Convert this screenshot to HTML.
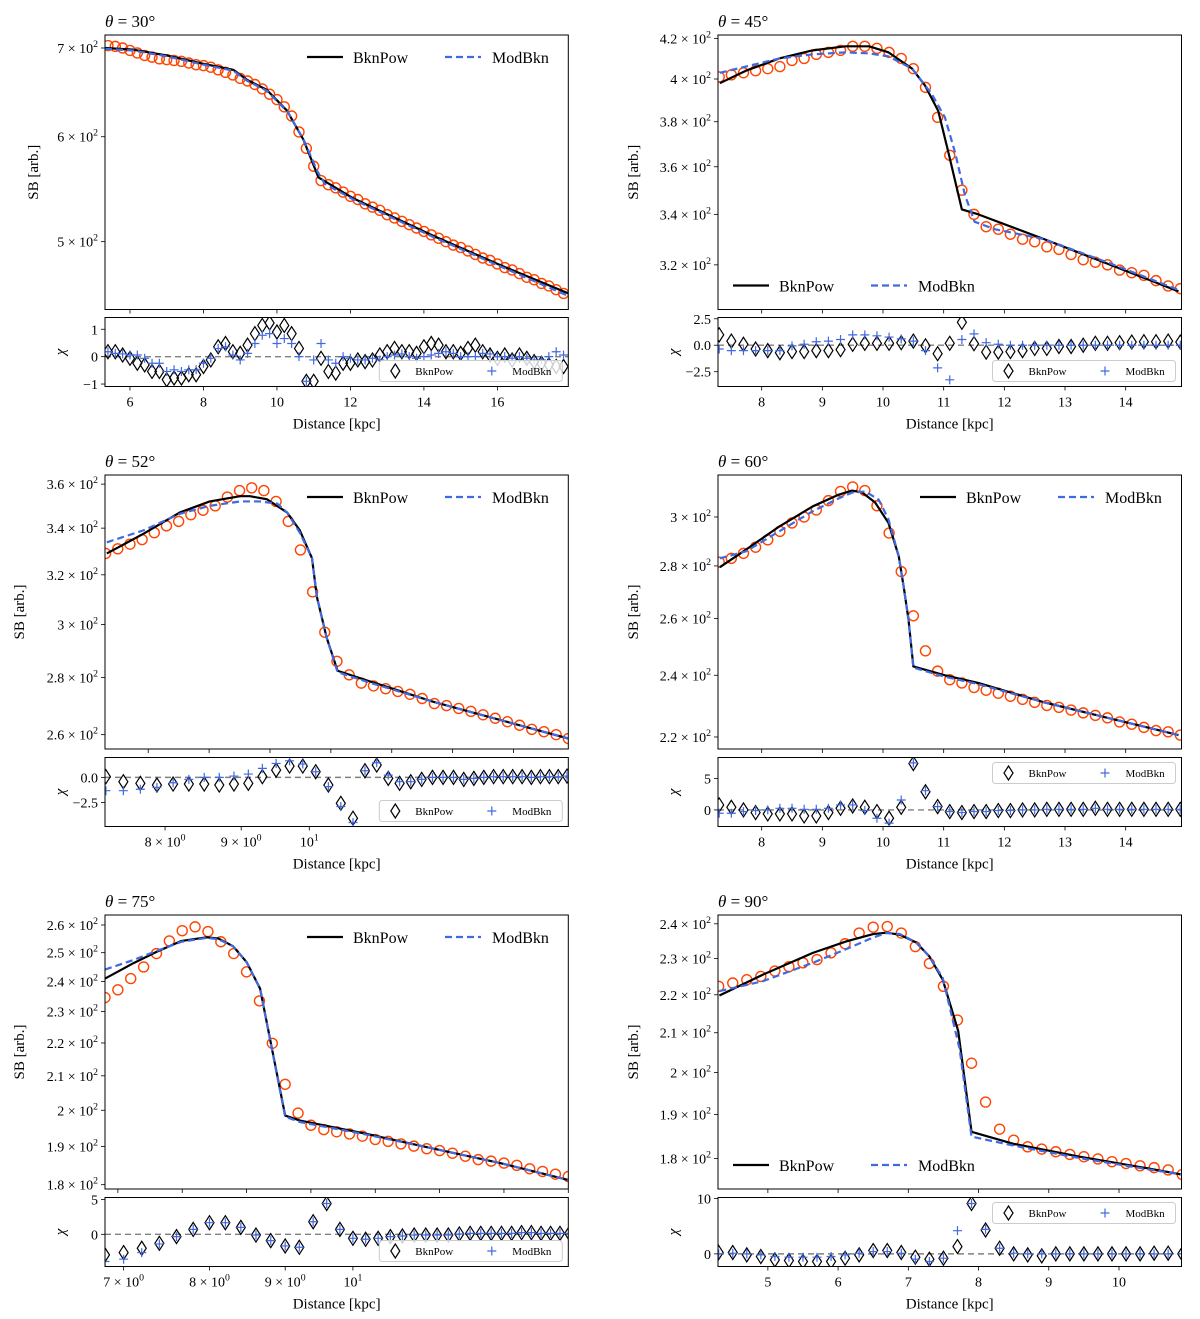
<!DOCTYPE html>
<html><head><meta charset="utf-8"><style>
html,body{margin:0;padding:0;background:#fff;}
svg{display:block;font-family:"Liberation Serif",serif;}
</style></head><body>
<svg id="fig" xmlns="http://www.w3.org/2000/svg" width="1200" height="1319" viewBox="0 0 1200 1319"></svg>
<script>
// ---------- Panel 1 (theta = 30) ----------
const p1X=[5.4,5.6,5.8,6.0,6.2,6.4,6.6,6.8,7.0,7.2,7.4,7.6,7.8,8.0,8.2,8.4,8.6,8.8,9.0,9.2,9.4,9.6,9.8,10.0,10.2,10.4,10.6,10.8,11.0,11.2,11.4,11.6,11.8,12.0,12.2,12.4,12.6,12.8,13.0,13.2,13.4,13.6,13.8,14.0,14.2,14.4,14.6,14.8,15.0,15.2,15.4,15.6,15.8,16.0,16.2,16.4,16.6,16.8,17.0,17.2,17.4,17.6,17.8];
const p1Obs=[703,702,700,697,694,691,689,687,686,685,684,682,680,679,677,674,671,668,664,661,657,652,646,640,632,622,605,588,570,556,552,549,545,541,538,534,531,528,524,521,518,515,512,509,506,503,500,497,495,492,489,486,484,481,478,476,473,470,468,465,463,460,457];
const p1BknX=[5.32,6.09,7.0,8.0,8.81,9.2,9.72,10.27,10.72,11.13,12.08,14.26,16.08,17.93];
const p1BknY=[700,698,691,681,674,662,651,628,597,559,539,505,480,457];
const p1ModX=[5.32,6.09,7.0,8.0,8.81,9.2,9.72,10.3,10.75,11.1,11.3,12.08,14.26,16.08,17.93];
const p1ModY=[699,697,690,680,673,661,650,626,595,565,553,538,504,479,455];
const p1Dia=[.18,.18,.06,-.06,-.24,-.3,-.54,-.54,-.84,-.78,-.78,-.66,-.66,-.36,-.12,.36,.48,.18,.12,.42,.84,1.14,1.23,.9,1.14,.84,.3,-.9,-.9,-.06,-.54,-.6,-.24,-.24,-.12,-.18,-.12,.06,.18,.3,.18,.18,.12,.36,.48,.42,.18,.18,.12,.3,.42,.18,.06,-.06,.06,-.12,.06,-.06,-.18,-.24,-.3,-.36,-.36];
const p1Plus=[.18,.12,.1,.06,.06,-.06,-.24,-.24,-.54,-.48,-.54,-.48,-.48,-.24,-.06,.3,.36,.06,-.12,.12,.48,.78,.84,.48,.66,.48,0,-.9,-.12,.48,-.12,-.24,0,-.06,-.12,-.12,-.06,-.12,0,.06,.1,0,-.06,0,.06,.12,.18,.12,0,0,0,.12,.1,0,0,-.06,0,-.06,-.12,-.12,0,.18,.06];
const p1YTicks=[500,600,700];
const p1RTicks=[-1,0,1];
const p1RTickLabels=["−1","0","1"];
const p1XTicks=[6,8,10,12,14,16];
const p1XTickLabels=["6","8","10","12","14","16"];

// ---------- Panel 2 (theta = 45) ----------
const p2X=[7.3,7.5,7.7,7.9,8.1,8.3,8.5,8.7,8.9,9.1,9.3,9.5,9.7,9.9,10.1,10.3,10.5,10.7,10.9,11.1,11.3,11.5,11.7,11.9,12.1,12.3,12.5,12.7,12.9,13.1,13.3,13.5,13.7,13.9,14.1,14.3,14.5,14.7,14.9];
const p2Obs=[401,402,403,404,405,406,409,410,412,413,414,416,416,415,413,410,405,396,382,365,350,340,335,334,332,330,329,327,326,324,322,321,320,318,317,316,314,312,311];
const p2BknX=[7.31,7.74,8.29,8.84,9.38,9.77,10.09,10.48,10.69,10.91,11.08,11.30,11.57,12.66,13.75,14.87];
const p2BknY=[398,404,410,414,416,416,413,405,397,385,366,342,340,330,320,310];
const p2ModX=[7.31,7.74,8.29,8.84,9.38,9.77,10.09,10.48,10.80,11.02,11.19,11.35,11.51,11.84,12.66,13.75,14.87];
const p2ModY=[403,406,410,412,413,412.5,411,405,393,382,366,348,337,334,330,320.5,310.5];
const p2Dia=[.98,.39,.09,-.36,-.51,-.71,-.6,-.6,-.51,-.51,-.42,.09,.18,.18,.18,.24,.39,-.06,-.8,.18,2.17,.15,-.65,-.65,-.6,-.51,-.3,-.3,-.12,-.12,0,.18,.18,.24,.3,.33,.33,.39,.3];
const p2Plus=[-.36,-.51,-.51,-.51,-.51,-.51,-.06,.09,.33,.39,.54,.98,.98,.89,.77,.6,.39,-.51,-2.14,-3.27,.54,1.07,.24,.09,0,0,0,0,0,0,0,0,0,0,0,0,0,0,0];
const p2YTicks=[320,340,360,380,400,420];
const p2RTicks=[-2.5,0,2.5];
const p2RTickLabels=["−2.5","0.0","2.5"];
const p2XTicks=[8,9,10,11,12,13,14];
const p2XTickLabels=["8","9","10","11","12","13","14"];

// ---------- Panel 3 (theta = 52) ----------
const p3X=[7.3,7.5,7.7,7.9,8.1,8.3,8.5,8.7,8.9,9.1,9.3,9.5,9.7,9.9,10.1,10.3,10.5,10.7,10.9,11.1,11.3,11.5,11.7,11.9,12.1,12.3,12.5,12.7,12.9,13.1,13.3,13.5,13.7,13.9,14.1,14.3,14.5,14.7,14.9];
const p3Obs=[329,331,333,335,338,341,343,346,348,350,354,357,358.3,357,352,343,330.5,313,297,286,281,278,277,276,275,274,272.5,270.7,270,269,268,266.8,265.6,264.4,263.2,261.8,261,260,258.7];
const p3BknX=[7.32,7.92,8.52,9.01,9.51,9.67,9.95,10.28,10.49,10.69,10.77,10.93,11.11,11.59,12.69,13.78,14.9];
const p3BknY=[329,337.5,347,352,354.4,354.4,353,347,339,327,311,295,282.5,279,271.3,265,258.7];
const p3ModX=[7.32,7.92,8.52,9.01,9.51,9.83,10.12,10.28,10.49,10.69,10.77,10.93,11.11,11.59,12.69,13.78,14.9];
const p3ModY=[333.8,339,346.4,350,352,352,351,347,338,327,311,295,282,278.5,271.3,265,258.7];
const p3Dia=[.07,-.43,-.59,-.76,-.66,-.66,-.66,-.76,-.66,-.59,.07,.72,1.12,1.12,.56,-.76,-2.57,-4.05,.66,1.22,-.1,-.59,-.43,-.2,0,0,0,-.2,-.1,0,.07,.07,.07,.07,0,.07,.07,.07,.13];
const p3Plus=[-1.32,-1.32,-1.18,-.99,-.53,-.2,0,0,.13,.33,.89,1.38,1.64,1.32,.56,-.92,-2.89,-4.47,.66,1.45,.23,-.43,-.43,-.2,0,0,0,-.2,-.1,0,.07,.07,.07,.07,0,.07,.07,.07,.13];
const p3YTicks=[260,280,300,320,340,360];
const p3RTicks=[-2.5,0];
const p3RTickLabels=["−2.5","0.0"];
const p3XTicksMain=[8,9,10,11,12,13,14];
const p3XTicks=[8,9,10];
const p3XTickLabels=["8×10^0","9×10^0","10^1"];

// ---------- Panel 4 (theta = 60) ----------
const p4X=[7.3,7.5,7.7,7.9,8.1,8.3,8.5,8.7,8.9,9.1,9.3,9.5,9.7,9.9,10.1,10.3,10.5,10.7,10.9,11.1,11.3,11.5,11.7,11.9,12.1,12.3,12.5,12.7,12.9,13.1,13.3,13.5,13.7,13.9,14.1,14.3,14.5,14.7,14.9];
const p4Obs=[281.5,283,285,287.5,290.5,294,297.5,300,303,307,311,313,311.4,304.8,293.3,277.8,261,248.4,241.4,238.5,237.4,235.9,235,234,233,232,231,230,229.4,228.5,227.6,226.8,226,224.7,224,223,222,221.6,220.6];
const p4BknX=[7.31,7.74,8.29,8.84,9.27,9.49,9.66,9.87,10.09,10.26,10.34,10.42,10.50,11.02,11.57,12.66,13.75,14.87];
const p4BknY=[279.5,286.5,296,304.5,309.6,311.4,310.5,306.2,297.5,283.8,272,259.6,243,240,237.4,231,225.8,220.6];
const p4ModX=[7.31,7.74,8.29,8.84,9.27,9.49,9.71,9.93,10.09,10.26,10.34,10.42,10.50,11.02,11.57,12.66,13.75,14.87];
const p4ModY=[283,285.8,294,302.4,308,310.5,311,307.4,299,283.8,272,259.6,242.6,239.5,237,231,225.8,220.6];
const p4Dia=[.79,.42,0,-.42,-.63,-.63,-.63,-.95,-.95,-.42,.26,.63,.42,-.26,-1.32,.42,7.37,2.89,.53,-.26,-.42,-.26,-.26,-.1,-.1,0,0,.1,.1,.1,.1,.26,.1,.1,.1,.1,.1,.1,.1];
const p4Plus=[-.53,-.53,-.26,-.1,0,.26,.26,.1,.1,.26,.79,.79,-.1,-1.32,-2.1,1.58,7.47,3.05,.53,-.26,-.42,-.26,-.26,-.1,-.1,0,0,.1,.1,.1,.1,.26,.1,.1,.1,.1,.1,.1,.1];
const p4YTicks=[220,240,260,280,300];
const p4RTicks=[0,5];
const p4RTickLabels=["0","5"];
const p4XTicks=[8,9,10,11,12,13,14];
const p4XTickLabels=["8","9","10","11","12","13","14"];

// ---------- Panel 5 (theta = 75) ----------
const p5X=[6.8,7.0,7.2,7.4,7.6,7.8,8.0,8.2,8.4,8.6,8.8,9.0,9.2,9.4,9.6,9.8,10.0,10.2,10.4,10.6,10.8,11.0,11.2,11.4,11.6,11.8,12.0,12.2,12.4,12.6,12.8,13.0,13.2,13.4,13.6,13.8,14.0];
const p5Obs=[234.6,237.2,241,245,249.7,254.2,257.9,259.3,257.6,253.9,249.7,243.3,233.5,219.9,207.5,199.2,195.8,194.6,194,193.4,192.8,191.9,191.4,190.7,190.1,189.4,188.9,188.2,187.4,186.5,186.1,185.6,185,184.1,183.4,182.7,182.1];
const p5BknX=[6.80,7.24,7.60,7.99,8.38,8.56,8.79,9.00,9.21,9.60,9.83,10.87,11.91,12.94,14.0];
const p5BknY=[241,246.3,250.3,254.2,255.5,255.1,252.3,246.7,237.6,198.5,197.1,193.4,189.4,185.6,181.2];
const p5ModX=[6.80,7.24,7.60,7.99,8.38,8.56,8.79,9.00,9.21,9.60,9.83,10.87,11.91,12.94,14.0];
const p5ModY=[244.1,247.4,250.6,253.9,255.3,254.8,252.3,246.7,237.6,198.2,196.7,193.2,189.4,185.6,181.2];
const p5Dia=[-2.95,-2.62,-2.0,-1.29,-.33,.71,1.67,1.67,1.0,-.1,-.9,-1.67,-1.86,1.81,4.43,.71,-.57,-.71,-.57,-.33,-.24,-.1,-.1,-.1,-.1,.05,.14,.14,.14,.14,.14,.24,.24,.14,.14,.14,.14];
const p5Plus=[-3.9,-3.57,-2.62,-1.38,-.33,.71,1.67,1.67,1.0,-.1,-.9,-1.67,-1.86,1.81,4.43,.71,-.57,-.71,-.57,-.33,-.24,-.1,-.1,-.1,-.1,.05,.14,.14,.14,.14,.14,.24,.24,.14,.14,.14,.14];
const p5YTicks=[180,190,200,210,220,230,240,250,260];
const p5RTicks=[0,5];
const p5RTickLabels=["0","5"];
const p5XTicksMain=[7,8,9,10,11,12,13,14];
const p5XTicks=[7,8,9,10];
const p5XTickLabels=["7×10^0","8×10^0","9×10^0","10^1"];

// ---------- Panel 6 (theta = 90) ----------
const p6X=[4.3,4.5,4.7,4.9,5.1,5.3,5.5,5.7,5.9,6.1,6.3,6.5,6.7,6.9,7.1,7.3,7.5,7.7,7.9,8.1,8.3,8.5,8.7,8.9,9.1,9.3,9.5,9.7,9.9,10.1,10.3,10.5,10.7,10.9];
const p6Obs=[222.3,223.2,224.1,225,226.5,227.7,228.8,229.7,231.6,234.2,237.3,239,239.2,237.3,233.4,228.6,222.3,213.3,202.3,192.9,186.6,184.1,182.6,182.1,181.5,180.9,180.4,179.9,179.3,178.9,178.4,178,177.5,176.5];
const p6BknX=[4.31,4.93,5.64,6.12,6.50,6.69,6.88,7.11,7.30,7.49,7.71,7.90,8.49,9.44,10.39,10.89];
const p6BknY=[219.8,225.5,231.6,234.9,237,237.4,236.8,234.6,230.6,224.1,210.5,186,183.3,180.4,177.9,176.5];
const p6ModX=[4.31,4.93,5.64,6.12,6.50,6.69,6.88,7.11,7.30,7.49,7.73,7.90,8.49,9.44,10.39,10.89];
const p6ModY=[221,223.7,228.8,232.7,236,237.3,237,234.6,230.6,224.6,205.9,184.9,182.9,180.1,177.7,176.5];
const p6Dia=[.24,.24,-.18,-.48,-1.08,-1.2,-1.38,-1.38,-1.38,-.78,-.18,.6,.6,.24,-.6,-.96,-.78,1.32,9.1,4.31,1.02,0,-.18,-.36,0,0,0,0,0,0,0,.12,.12,0];
const p6Plus=[0,.12,0,-.18,-.48,-.6,-.6,-.6,-.48,-.18,.12,.42,.42,.12,-.96,-1.38,-.78,4.19,9.1,4.43,1.02,.12,0,0,0,0,0,0,0,0,0,0,0,0];
const p6YTicks=[180,190,200,210,220,230,240];
const p6RTicks=[0,10];
const p6RTickLabels=["0","10"];
const p6XTicks=[5,6,7,8,9,10];
const p6XTickLabels=["5","6","7","8","9","10"];

const NS="http://www.w3.org/2000/svg";
const svg=document.getElementById('fig');
function mk(tag,attrs,parent){const e=document.createElementNS(NS,tag);for(const k in attrs)e.setAttribute(k,attrs[k]);(parent||svg).appendChild(e);return e;}
function scale(d0,d1,r0,r1,log){
  if(log){const a=Math.log10(d0),b=Math.log10(d1);return v=>r0+(Math.log10(v)-a)/(b-a)*(r1-r0);}
  return v=>r0+(v-d0)/(d1-d0)*(r1-r0);
}
function supText(parent,x,y,str,anchor,size,name){
  const t=mk('text',{x:x,y:y,'text-anchor':anchor,'font-size':size,fill:'#000'},parent);
  
  
  const parts=str.split('^');
  const a=mk('tspan',{},t);a.textContent=parts[0].replace('×',' × ');
  if(parts.length>1){const b=mk('tspan',{dy:-6,'font-size':size*0.7},t);b.textContent=parts[1];}
  return t;
}
function sbLabel(v){const m=v/100;const s=(Math.abs(m-Math.round(m))<1e-6)?String(Math.round(m)):m.toFixed(1);return s+'×10^2';}
function path(xs,ys,fx,fy){return xs.map((v,i)=>(i?'L':'M')+fx(v).toFixed(2)+','+fy(ys[i]).toFixed(2)).join(' ');}

let clipN=0;
function panel(c){
  const g=mk('g',{});
  
  
  // title
  const tt=mk('text',{x:c.X0,y:c.Y0-8,'font-size':17,fill:'#000'},g);
  
  
  const th=mk('tspan',{'font-style':'italic'},tt);th.textContent='θ';
  const tr=mk('tspan',{},tt);tr.textContent=' = '+c.theta+'°';
  // scales
  const fx=scale(c.xd[0],c.xd[1],c.X0,c.X1,false);
  const fy=scale(c.yd[0],c.yd[1],c.Y1,c.Y0,true);
  const rfx=scale(c.rxd[0],c.rxd[1],c.X0,c.X1,c.rxlog);
  const rfy=scale(c.rd[0],c.rd[1],c.RY1,c.RY0,false);
  const cid='clip'+(clipN++), rcid='clip'+(clipN++);
  const defs=mk('defs',{},g);
  const cp=mk('clipPath',{id:cid},defs);mk('rect',{x:c.X0,y:c.Y0,width:c.X1-c.X0,height:c.Y1-c.Y0},cp);
  const rcp=mk('clipPath',{id:rcid},defs);mk('rect',{x:c.X0,y:c.RY0,width:c.X1-c.X0,height:c.RY1-c.RY0},rcp);
  // main plot
  const mg=mk('g',{'clip-path':'url(#'+cid+')'},g);
  
  
  c.obsX.forEach((x,i)=>{
    const ci=mk('circle',{cx:fx(x),cy:fy(c.obs[i]),r:5,fill:'none',stroke:'#ff4500','stroke-width':1.4},mg);
    
    
  });
  const l1=mk('path',{d:path(c.bknX,c.bknY,fx,fy),fill:'none',stroke:'#000','stroke-width':2.2,'stroke-linejoin':'round'},mg);
  
  
  const l2=mk('path',{d:path(c.modX,c.modY,fx,fy),fill:'none',stroke:'#4169e1','stroke-width':2.2,'stroke-dasharray':'7,4'},mg);
  
  
  const fr=mk('rect',{x:c.X0,y:c.Y0,width:c.X1-c.X0,height:c.Y1-c.Y0,fill:'none',stroke:'#000','stroke-width':1},g);
  
  
  // main y ticks
  c.yt.forEach(v=>{
    const y=fy(v);
    mk('line',{x1:c.X0-4,x2:c.X0,y1:y,y2:y,stroke:'#000','stroke-width':0.8},g);
    supText(g,c.X0-7,y+5,sbLabel(v),'end',14,'y-tick-label');
  });
  c.xtm.forEach(v=>{const x=fx(v);mk('line',{x1:x,x2:x,y1:c.Y1,y2:c.Y1+4,stroke:'#000','stroke-width':0.8},g);});
  const yl=mk('text',{x:0,y:0,'font-size':15,'text-anchor':'middle',transform:'translate('+c.ylabX+','+((c.Y0+c.Y1)/2)+') rotate(-90)'},g);
  
  
  yl.textContent='SB [arb.]';
  // main legend
  const lg=mk('g',{},g);
  
  
  let lx,ly;
  if(c.legTop){lx=c.X0+202;ly=c.Y0+22;}else{lx=c.X0+15;ly=c.Y1-24;}
  mk('line',{x1:lx,x2:lx+36,y1:ly,y2:ly,stroke:'#000','stroke-width':2.2},lg);
  const t1=mk('text',{x:lx+46,y:ly+6,'font-size':16},lg);t1.textContent='BknPow';
  
  
  mk('line',{x1:lx+138,x2:lx+174,y1:ly,y2:ly,stroke:'#4169e1','stroke-width':2.2,'stroke-dasharray':'7,4'},lg);
  const t2=mk('text',{x:lx+185,y:ly+6,'font-size':16},lg);t2.textContent='ModBkn';
  
  
  // residual plot
  const rg=mk('g',{'clip-path':'url(#'+rcid+')'},g);
  
  
  mk('line',{x1:c.X0,x2:c.X1,y1:rfy(0),y2:rfy(0),stroke:'#808080','stroke-width':1.4,'stroke-dasharray':'6,4'},rg);
  c.obsX.forEach((x,i)=>{
    const px=rfx(x),py=rfy(c.dia[i]);
    const d=mk('path',{d:`M${px},${py-7}L${px+4.5},${py}L${px},${py+7}L${px-4.5},${py}Z`,fill:'none',stroke:'#000','stroke-width':1.2},rg);
    
    
  });
  c.obsX.forEach((x,i)=>{
    const px=rfx(x),py=rfy(c.plus[i]);
    const p=mk('path',{d:`M${px-4.5},${py}H${px+4.5}M${px},${py-4.5}V${py+4.5}`,stroke:'#4169e1','stroke-width':1.2},rg);
    
    
  });
  // residual legend
  const rl=mk('g',{},g);
  
  
  const bw=183,bh=21;const bx=c.X1-bw-6;const by=c.rlegTop?c.RY0+5:c.RY1-bh-5;
  mk('rect',{x:bx,y:by,width:bw,height:bh,rx:3,fill:'#fff','fill-opacity':0.8,stroke:'#ccc','stroke-width':1},rl);
  const cy=by+bh/2;
  mk('path',{d:`M${bx+16},${cy-7}L${bx+20.5},${cy}L${bx+16},${cy+7}L${bx+11.5},${cy}Z`,fill:'none',stroke:'#000','stroke-width':1.2},rl);
  const rt1=mk('text',{x:bx+36,y:cy+4,'font-size':11},rl);rt1.textContent='BknPow';
  mk('path',{d:`M${bx+108},${cy}H${bx+117}M${bx+112.5},${cy-4.5}V${cy+4.5}`,stroke:'#4169e1','stroke-width':1.2},rl);
  const rt2=mk('text',{x:bx+133,y:cy+4,'font-size':11},rl);rt2.textContent='ModBkn';
  const rfr=mk('rect',{x:c.X0,y:c.RY0,width:c.X1-c.X0,height:c.RY1-c.RY0,fill:'none',stroke:'#000','stroke-width':1},g);
  
  
  c.rt.forEach((v,i)=>{
    const y=rfy(v);
    mk('line',{x1:c.X0-4,x2:c.X0,y1:y,y2:y,stroke:'#000','stroke-width':0.8},g);
    const t=mk('text',{x:c.X0-7,y:y+5,'font-size':14,'text-anchor':'end'},g);
    
    
    t.textContent=c.rtl[i];
  });
  const cl=mk('text',{x:0,y:0,'font-size':15,'font-style':'italic','text-anchor':'middle',transform:'translate('+(c.X0-40)+','+((c.RY0+c.RY1)/2)+') rotate(-90)'},g);
  
  
  cl.textContent='χ';
  c.xt.forEach((v,i)=>{
    const x=rfx(v);
    mk('line',{x1:x,x2:x,y1:c.RY1,y2:c.RY1+4,stroke:'#000','stroke-width':0.8},g);
    supText(g,x,c.RY1+20,c.xtl[i],'middle',14,'x-tick-label');
  });
  const xl=mk('text',{x:(c.X0+c.X1)/2,y:c.RY1+42,'font-size':15,'text-anchor':'middle'},g);
  
  
  xl.textContent='Distance [kpc]';
}

const L0=105,L1=568.3,R0=718,R1=1181.5;
panel({name:'panel-theta-30',theta:30,X0:L0,X1:L1,Y0:35,Y1:309.5,RY0:317.5,RY1:386.5,xd:[5.32,17.93],rxd:[5.32,17.93],rxlog:false,yd:[444.4,716],rd:[-1.09,1.43],
  obsX:p1X,obs:p1Obs,bknX:p1BknX,bknY:p1BknY,modX:p1ModX,modY:p1ModY,dia:p1Dia,plus:p1Plus,yt:p1YTicks,rt:p1RTicks,rtl:p1RTickLabels,xtm:p1XTicks,xt:p1XTicks,xtl:p1XTickLabels,ylabX:38,legTop:true,rlegTop:false});
panel({name:'panel-theta-45',theta:45,X0:R0,X1:R1,Y0:35,Y1:309.5,RY0:317.5,RY1:386.5,xd:[7.28,14.92],rxd:[7.28,14.92],rxlog:false,yd:[303.3,421.7],rd:[-3.9,2.62],
  obsX:p2X,obs:p2Obs,bknX:p2BknX,bknY:p2BknY,modX:p2ModX,modY:p2ModY,dia:p2Dia,plus:p2Plus,yt:p2YTicks,rt:p2RTicks,rtl:p2RTickLabels,xtm:p2XTicks,xt:p2XTicks,xtl:p2XTickLabels,ylabX:638,legTop:false,rlegTop:false});
panel({name:'panel-theta-52',theta:52,X0:L0,X1:L1,Y0:475,Y1:749,RY0:757.5,RY1:826.5,xd:[7.29,14.9],rxd:[7.29,14.93],rxlog:true,yd:[255.2,364.3],rd:[-4.87,1.97],
  obsX:p3X,obs:p3Obs,bknX:p3BknX,bknY:p3BknY,modX:p3ModX,modY:p3ModY,dia:p3Dia,plus:p3Plus,yt:p3YTicks,rt:p3RTicks,rtl:p3RTickLabels,xtm:p3XTicksMain,xt:p3XTicks,xtl:p3XTickLabels,ylabX:24,legTop:true,rlegTop:false});
panel({name:'panel-theta-60',theta:60,X0:R0,X1:R1,Y0:475,Y1:749,RY0:757.5,RY1:826.5,xd:[7.28,14.92],rxd:[7.28,14.92],rxlog:false,yd:[216.3,318.3],rd:[-2.63,8.32],
  obsX:p4X,obs:p4Obs,bknX:p4BknX,bknY:p4BknY,modX:p4ModX,modY:p4ModY,dia:p4Dia,plus:p4Plus,yt:p4YTicks,rt:p4RTicks,rtl:p4RTickLabels,xtm:p4XTicks,xt:p4XTicks,xtl:p4XTickLabels,ylabX:638,legTop:true,rlegTop:true});
panel({name:'panel-theta-75',theta:75,X0:L0,X1:L1,Y0:915,Y1:1189,RY0:1197.5,RY1:1266.5,xd:[6.8,14.0],rxd:[6.8,13.98],rxlog:true,yd:[178.9,263.7],rd:[-4.62,5.29],
  obsX:p5X,obs:p5Obs,bknX:p5BknX,bknY:p5BknY,modX:p5ModX,modY:p5ModY,dia:p5Dia,plus:p5Plus,yt:p5YTicks,rt:p5RTicks,rtl:p5RTickLabels,xtm:p5XTicksMain,xt:p5XTicks,xtl:p5XTickLabels,ylabX:24,legTop:true,rlegTop:false});
panel({name:'panel-theta-90',theta:90,X0:R0,X1:R1,Y0:915,Y1:1189,RY0:1197.5,RY1:1266.5,xd:[4.29,10.89],rxd:[4.29,10.89],rxlog:false,yd:[173.4,242.6],rd:[-2.28,10.18],
  obsX:p6X,obs:p6Obs,bknX:p6BknX,bknY:p6BknY,modX:p6ModX,modY:p6ModY,dia:p6Dia,plus:p6Plus,yt:p6YTicks,rt:p6RTicks,rtl:p6RTickLabels,xtm:p6XTicks,xt:p6XTicks,xtl:p6XTickLabels,ylabX:638,legTop:false,rlegTop:true});
</script>
</body></html>
